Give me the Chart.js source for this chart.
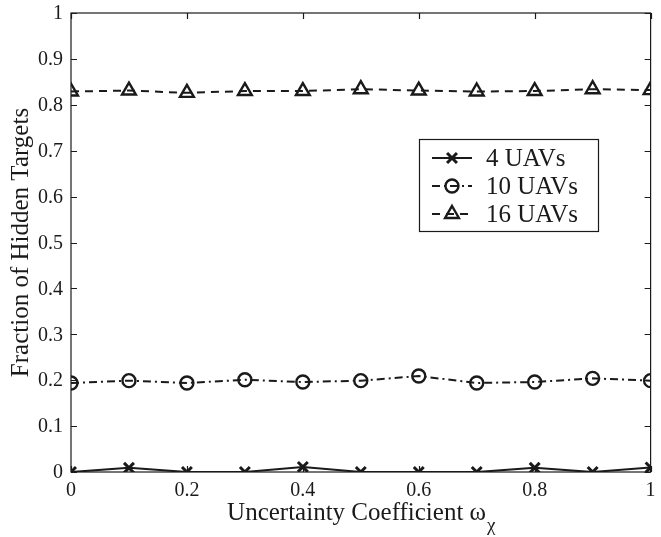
<!DOCTYPE html>
<html lang="en">
<head>
  <meta charset="UTF-8">
  <title>Fraction of Hidden Targets</title>
  <script src="https://cdn.jsdelivr.net/npm/chart.js"></script>
  <style>
    body { margin: 0; background: #fff; }
    #wrap { width: 661px; height: 537px; }
  </style>
</head>
<body>
  <div id="wrap"><canvas id="chart"></canvas></div>
  <script>
    // values
    const coeffs = [0, 0.1, 0.2, 0.3, 0.4, 0.5, 0.6, 0.7, 0.8, 0.9, 1];
    const uav4 = [0, 0.009, 0, 0, 0.011, 0, 0, 0, 0.009, 0, 0.01];
    const uav10 = [0.194, 0.199, 0.194, 0.201, 0.196, 0.199, 0.209, 0.194, 0.196, 0.204, 0.199];
    const uav16 = [0.829, 0.831, 0.826, 0.830, 0.830, 0.834, 0.831, 0.829, 0.830, 0.834, 0.832];
    const seriesNames = ['4 UAVs', '10 UAVs', '16 UAVs'];

    const ink = '#1a1a1a';
    const serif = '"Liberation Serif", "Times New Roman", serif';

    function pts(vals) {
      return coeffs.map((c, i) => ({ x: c, y: vals[i] }));
    }
    const fmt = v => String(Number(v.toFixed(1)));

    // box + inward ticks + tick labels, axis titles, legend
    const frame = {
      id: 'frame',
      afterDraw(chart) {
        const { ctx, chartArea: a, scales: { x, y } } = chart;
        ctx.save();
        ctx.strokeStyle = ink;
        ctx.fillStyle = ink;
        ctx.lineWidth = 1.2;
        ctx.strokeRect(a.left, a.top, a.right - a.left, a.bottom - a.top);
        ctx.beginPath();
        y.ticks.forEach(t => {
          const py = Math.round(y.getPixelForValue(t.value)) + 0.5;
          ctx.moveTo(a.left, py); ctx.lineTo(a.left + 6, py);
          ctx.moveTo(a.right, py); ctx.lineTo(a.right - 6, py);
        });
        x.ticks.forEach(t => {
          const px = Math.round(x.getPixelForValue(t.value)) + 0.5;
          ctx.moveTo(px, a.bottom); ctx.lineTo(px, a.bottom - 6);
          ctx.moveTo(px, a.top); ctx.lineTo(px, a.top + 6);
        });
        ctx.stroke();

        ctx.font = '20px ' + serif;
        ctx.textBaseline = 'middle';
        ctx.textAlign = 'right';
        y.ticks.forEach(t => ctx.fillText(fmt(t.value), a.left - 8, y.getPixelForValue(t.value) + 1));
        ctx.textAlign = 'center';
        x.ticks.forEach(t => ctx.fillText(fmt(t.value), x.getPixelForValue(t.value), a.bottom + 19));

        // axis titles
        const main = 'Uncertainty Coefficient \u03c9';
        ctx.font = '25px ' + serif;
        const w = ctx.measureText(main).width;
        ctx.font = '19px ' + serif;
        const ws = ctx.measureText('\u03c7').width;
        const sx = (a.left + a.right) / 2 - (w + ws) / 2;
        ctx.textAlign = 'left';
        ctx.font = '25px ' + serif;
        ctx.fillText(main, sx, 513);
        ctx.font = '19px ' + serif;
        ctx.fillText('\u03c7', sx + w + 1, 526);

        ctx.save();
        ctx.translate(21, (a.top + a.bottom) / 2);
        ctx.rotate(-Math.PI / 2);
        ctx.font = '25px ' + serif;
        ctx.textAlign = 'center';
        ctx.fillText('Fraction of Hidden Targets', 0, 0);
        ctx.restore();

        // legend
        ctx.lineWidth = 1.2;
        ctx.strokeRect(419.5, 139.5, 179, 92);
        const rows = [158, 186, 214];
        chart.data.datasets.forEach((ds, i) => {
          const ry = rows[i];
          ctx.save();
          ctx.strokeStyle = ink;
          ctx.fillStyle = 'rgba(0,0,0,0)';
          ctx.lineWidth = ds.borderWidth;
          ctx.setLineDash(ds.borderDash || []);
          ctx.beginPath();
          ctx.moveTo(432, ry); ctx.lineTo(472, ry);
          ctx.stroke();
          ctx.setLineDash([]);
          ctx.lineWidth = ds.pointBorderWidth;
          Chart.helpers.drawPoint(ctx, {
            pointStyle: ds.pointStyle, radius: ds.pointRadius,
            rotation: 0, borderWidth: ds.pointBorderWidth
          }, 452, ry);
          ctx.restore();
          ctx.fillStyle = ink;
          ctx.font = '25px ' + serif;
          ctx.textAlign = 'left';
          ctx.fillText(ds.label, 486, ry + 1);
        });
        ctx.restore();
      }
    };

    const common = {
      borderColor: ink, pointBorderColor: ink, pointBackgroundColor: 'rgba(0,0,0,0)',
      borderWidth: 2, pointBorderWidth: 2.4, tension: 0, fill: false
    };

    new Chart(document.getElementById('chart'), {
      type: 'line',
      data: {
        datasets: [
          { ...common, label: seriesNames[0], data: pts(uav4), pointStyle: 'crossRot', pointRadius: 7, pointBorderWidth: 3 },
          { ...common, label: seriesNames[1], data: pts(uav10), pointStyle: 'circle', pointRadius: 6.5, borderDash: [8, 4, 2, 4] },
          { ...common, label: seriesNames[2], data: pts(uav16), pointStyle: 'triangle', pointRadius: 8, borderDash: [8, 6] }
        ]
      },
      options: {
        responsive: true,
        maintainAspectRatio: false,
        animation: false,
        layout: { padding: { top: 13, right: 6, left: 0, bottom: 0 } },
        plugins: { legend: { display: false }, tooltip: { enabled: false } },
        scales: {
          x: {
            type: 'linear', min: 0, max: 1,
            grid: { display: false, drawTicks: false }, border: { display: false },
            afterFit(s) { s.height = 65; },
            ticks: { stepSize: 0.2, display: false }
          },
          y: {
            min: 0, max: 1,
            grid: { display: false, drawTicks: false }, border: { display: false },
            afterFit(s) { s.width = 71; },
            ticks: { stepSize: 0.1, display: false }
          }
        }
      },
      plugins: [frame]
    });
  </script>
</body>
</html>
